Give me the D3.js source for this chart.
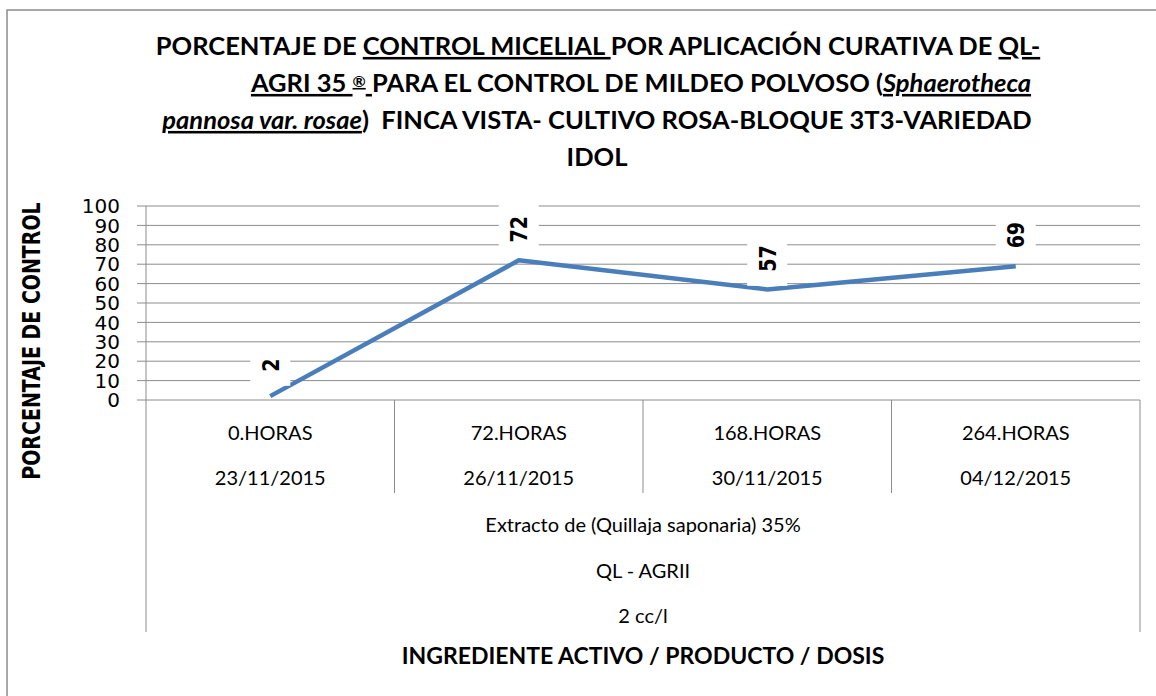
<!DOCTYPE html>
<html lang="es">
<head>
<meta charset="UTF-8">
<title>Porcentaje de control micelial</title>
<script src="https://d3js.org/d3.v7.min.js"></script>
<style>
    body { margin: 0; background: #fff; }
    svg { display: block; }
    .grid line { stroke: #8c8c8c; stroke-width: 1; }
    .tick-label { font-family: "DejaVu Sans", sans-serif; font-size: 20px; fill: #000; }
    .cat { font-family: Lato, "Open Sans", sans-serif; font-size: 20px; fill: #000; }
    .title { font-family: Lato, "Open Sans", sans-serif; font-weight: bold; font-size: 25.5px; fill: #000; }
    .u { text-decoration: underline; }
    .lbl { font-family: "DejaVu Sans", sans-serif; font-weight: bold; font-size: 19px; fill: #000; }
</style>
</head>
<body>
<div id="chart"></div>
<script>
    // datos
    const horas = ["0.HORAS", "72.HORAS", "168.HORAS", "264.HORAS"];
    const fechas = ["23/11/2015", "26/11/2015", "30/11/2015", "04/12/2015"];
    const control = [2, 72, 57, 69];
    const yTicks = [0, 10, 20, 30, 40, 50, 60, 70, 80, 90, 100];
    const grupo = ["Extracto de (Quillaja saponaria) 35%", "QL - AGRII", "2 cc/l"];

    const width = 1156, height = 696;
    const mLeft = 146, mRight = 1140, mTop = 206, mBottom = 400;
    const gris = "#8c8c8c";

    const svg = d3.select("#chart").append("svg")
        .attr("width", width)
        .attr("height", height);

    // borde del área del gráfico
    svg.append("rect")
        .attr("x", 7).attr("y", 10)
        .attr("width", 1180).attr("height", 720)
        .attr("fill", "none")
        .attr("stroke", gris)
        .attr("stroke-width", 1.5);

    const x = d3.scaleBand().domain(horas).range([mLeft, mRight]);
    const y = d3.scaleLinear().domain([0, 100]).range([mBottom, mTop]);

    // líneas de cuadrícula
    svg.append("g").attr("class", "grid")
        .selectAll("line")
        .data(yTicks)
        .enter().append("line")
        .attr("x1", mLeft - 9).attr("x2", mRight)
        .attr("y1", d => y(d)).attr("y2", d => y(d));

    svg.selectAll(".tick-label")
        .data(yTicks)
        .enter().append("text")
        .attr("class", "tick-label")
        .attr("x", 120)
        .attr("y", d => y(d))
        .attr("dy", "0.36em")
        .attr("text-anchor", "end")
        .text(d => d);

    // eje vertical y separadores de categorías
    const ejes = svg.append("g").attr("stroke", gris).attr("stroke-width", 1);
    ejes.append("line").attr("x1", mLeft).attr("x2", mLeft).attr("y1", mTop).attr("y2", 632);
    ejes.append("line").attr("x1", mRight).attr("x2", mRight).attr("y1", mBottom).attr("y2", 632);
    ejes.selectAll(".sep")
        .data(horas.slice(1))
        .enter().append("line")
        .attr("x1", d => x(d)).attr("x2", d => x(d))
        .attr("y1", mBottom).attr("y2", 493);

    const cx = d => x(d) + x.bandwidth() / 2;

    svg.selectAll(".hora")
        .data(horas)
        .enter().append("text")
        .attr("class", "cat")
        .attr("x", cx).attr("y", 433).attr("dy", "0.35em")
        .attr("text-anchor", "middle")
        .text(d => d);

    svg.selectAll(".fecha")
        .data(fechas)
        .enter().append("text")
        .attr("class", "cat")
        .attr("x", (d, i) => cx(horas[i])).attr("y", 478).attr("dy", "0.35em")
        .attr("text-anchor", "middle")
        .text(d => d);

    svg.selectAll(".grupo")
        .data(grupo)
        .enter().append("text")
        .attr("class", "cat")
        .attr("x", (mLeft + mRight) / 2)
        .attr("y", (d, i) => 525 + i * 45.5).attr("dy", "0.35em")
        .attr("text-anchor", "middle")
        .text(d => d);

    // serie
    const linea = d3.line()
        .x((d, i) => cx(horas[i]))
        .y(d => y(d));

    svg.append("path")
        .datum(control)
        .attr("d", linea)
        .attr("fill", "none")
        .attr("stroke", "#4a7ebb")
        .attr("stroke-width", 4.5)
        .attr("stroke-linejoin", "round");

    // etiquetas de datos, giradas
    const etiquetas = svg.selectAll(".lbl-g")
        .data(control)
        .enter().append("g")
        .attr("transform", (d, i) => `translate(${cx(horas[i])},${y(d) - 31}) rotate(-90)`);

    etiquetas.append("rect")
        .attr("x", d => -(String(d).length * 6.7 + 14))
        .attr("y", -20)
        .attr("width", d => 2 * (String(d).length * 6.7 + 14))
        .attr("height", 40)
        .attr("fill", "#fff");

    etiquetas.append("text")
        .attr("class", "lbl")
        .attr("text-anchor", "middle")
        .attr("dy", "0.36em")
        .attr("transform", "scale(1,1.25)")
        .text(d => d);

    // título del eje Y
    svg.append("text")
        .attr("class", "lbl")
        .attr("transform", "translate(31,341) rotate(-90) scale(1,1.3)")
        .attr("text-anchor", "middle")
        .attr("dy", "0.36em")
        .text("PORCENTAJE DE CONTROL");

    // título del eje X
    svg.append("text")
        .attr("class", "title")
        .style("font-size", "23px")
        .attr("x", (mLeft + mRight) / 2).attr("y", 656).attr("dy", "0.35em")
        .attr("text-anchor", "middle")
        .text("INGREDIENTE ACTIVO / PRODUCTO / DOSIS");

    // título principal en cuatro líneas
    const tituloLineas = [
        { cx: 598, partes: [["PORCENTAJE DE ", ""], ["CONTROL MICELIAL ", "u"], ["POR APLICACIÓN CURATIVA DE ", ""], ["QL-", "u"]] },
        { cx: 641, partes: [["AGRI 35 ", "u"], ["®", "sup"], [" ", "u"], ["PARA EL CONTROL DE MILDEO POLVOSO (", ""], ["Sphaerotheca", "ui"]] },
        { cx: 597, partes: [["pannosa var. rosae", "ui"], [")  FINCA VISTA- CULTIVO ROSA-BLOQUE 3T3-VARIEDAD", ""]] },
        { cx: 597, partes: [["IDOL", ""]] }
    ];

    tituloLineas.forEach((ln, i) => {
        const t = svg.append("text")
            .attr("class", "title")
            .attr("x", ln.cx)
            .attr("y", 46 + i * 37)
            .attr("dy", "0.35em")
            .attr("text-anchor", "middle")
            .style("white-space", "pre");
        ln.partes.forEach(([txt, est]) => {
            const s = t.append("tspan").text(txt);
            if (est.includes("u")) s.attr("class", "u");
            if (est.includes("i")) s.style("font-style", "italic");
            if (est === "sup") s.style("font-size", "16px").attr("baseline-shift", "30%");
        });
    });
</script>
</body>
</html>
